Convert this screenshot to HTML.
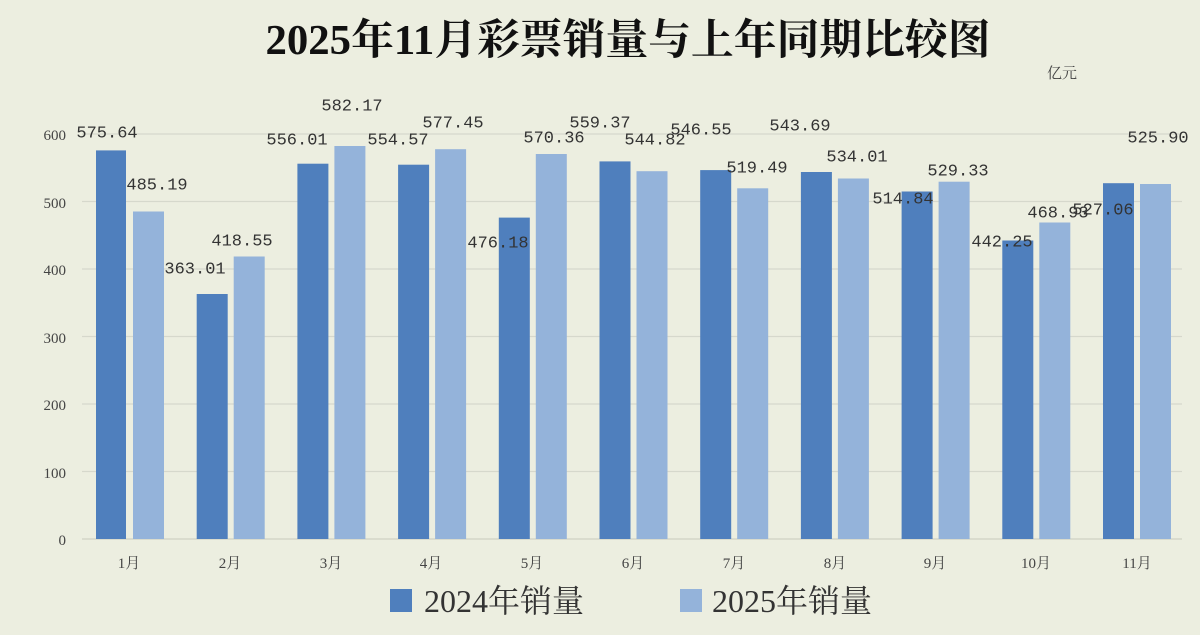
<!DOCTYPE html>
<html><head><meta charset="utf-8"><style>
body{margin:0;background:#eceee0;}
svg{display:block}
.t{font-family:"Liberation Serif","Noto Serif CJK SC",serif;}
.l{font-family:"Liberation Mono","Noto Serif CJK SC",monospace;font-size:17px;fill:#333;text-anchor:middle;dominant-baseline:central}
.ax{font-family:"Liberation Serif","Noto Serif CJK SC",serif;font-size:15px;fill:#444;}
</style></head><body>
<svg width="1200" height="635" viewBox="0 0 1200 635">
<rect width="1200" height="635" fill="#eceee0"/>
<text class="t" x="628" y="54" font-size="42" font-weight="bold" text-anchor="middle" fill="#111" textLength="725" lengthAdjust="spacingAndGlyphs">2025年11月彩票销量与上年同期比较图</text>
<text class="ax" x="1062" y="78" text-anchor="middle" font-size="16">亿元</text>
<g stroke="#d6d8cc" stroke-width="1.3">
<line x1="82" x2="1182" y1="134" y2="134"/><line x1="82" x2="1182" y1="201.5" y2="201.5"/>
<line x1="82" x2="1182" y1="269" y2="269"/><line x1="82" x2="1182" y1="336.5" y2="336.5"/>
<line x1="82" x2="1182" y1="404" y2="404"/><line x1="82" x2="1182" y1="471.5" y2="471.5"/>
<line x1="82" x2="1182" y1="539" y2="539" stroke="#cfd1c4"/>
</g>
<g class="ax" text-anchor="end" font-size="18">
<text x="66" y="140">600</text><text x="66" y="208">500</text><text x="66" y="275">400</text>
<text x="66" y="343">300</text><text x="66" y="410">200</text><text x="66" y="478">100</text><text x="66" y="545">0</text>
</g>
<g fill="#4f7fbd">
<rect x="96" y="150.4" width="30" height="388.6"/>
<rect x="196.7" y="294" width="31" height="245"/>
<rect x="297.4" y="163.7" width="31" height="375.3"/>
<rect x="398.1" y="164.7" width="31" height="374.3"/>
<rect x="498.8" y="217.6" width="31" height="321.4"/>
<rect x="599.5" y="161.4" width="31" height="377.6"/>
<rect x="700.2" y="170.1" width="31" height="368.9"/>
<rect x="800.9" y="172" width="31" height="367"/>
<rect x="901.6" y="191.5" width="31" height="347.5"/>
<rect x="1002.3" y="240.5" width="31" height="298.5"/>
<rect x="1103" y="183.2" width="31" height="355.8"/>
</g>
<g fill="#94b3da">
<rect x="133" y="211.5" width="31" height="327.5"/>
<rect x="233.7" y="256.5" width="31" height="282.5"/>
<rect x="334.4" y="146" width="31" height="393"/>
<rect x="435.1" y="149.2" width="31" height="389.8"/>
<rect x="535.8" y="154" width="31" height="385"/>
<rect x="636.5" y="171.2" width="31" height="367.8"/>
<rect x="737.2" y="188.3" width="31" height="350.7"/>
<rect x="837.9" y="178.5" width="31" height="360.5"/>
<rect x="938.6" y="181.7" width="31" height="357.3"/>
<rect x="1039.3" y="222.5" width="31" height="316.5"/>
<rect x="1140" y="184" width="31" height="355"/>
</g>
<g class="l">
<text x="107" y="134">575.64</text><text x="157" y="186">485.19</text>
<text x="195" y="270">363.01</text><text x="242" y="242">418.55</text>
<text x="297" y="141">556.01</text><text x="352" y="107">582.17</text>
<text x="398" y="141">554.57</text><text x="453" y="124">577.45</text>
<text x="498" y="244">476.18</text><text x="554" y="139">570.36</text>
<text x="600" y="124">559.37</text><text x="655" y="141">544.82</text>
<text x="701" y="131">546.55</text><text x="757" y="169">519.49</text>
<text x="800" y="127">543.69</text><text x="857" y="158">534.01</text>
<text x="903" y="200">514.84</text><text x="958" y="172">529.33</text>
<text x="1002" y="243">442.25</text><text x="1058" y="214">468.93</text>
<text x="1103" y="211">527.06</text><text x="1158" y="139">525.90</text>
</g>
<g class="ax" text-anchor="middle" font-size="16">
<text x="129" y="568">1月</text><text x="230" y="568">2月</text><text x="331" y="568">3月</text>
<text x="431" y="568">4月</text><text x="532" y="568">5月</text><text x="633" y="568">6月</text>
<text x="734" y="568">7月</text><text x="835" y="568">8月</text><text x="935" y="568">9月</text>
<text x="1036" y="568">10月</text><text x="1137" y="568">11月</text>
</g>
<rect x="390" y="589" width="22" height="23" fill="#4f7fbd"/>
<text class="t" x="424" y="612" font-size="32" fill="#333">2024年销量</text>
<rect x="680" y="589" width="22" height="23" fill="#94b3da"/>
<text class="t" x="712" y="612" font-size="32" fill="#333">2025年销量</text>
</svg>
</body></html>
